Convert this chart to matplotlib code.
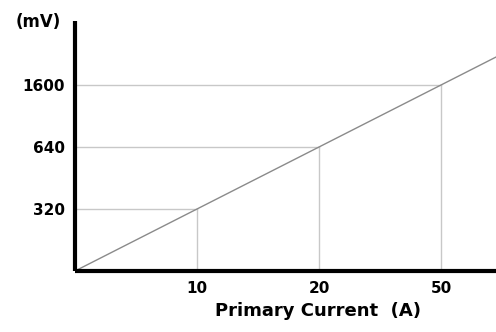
import numpy as np
import matplotlib.pyplot as plt

# category ticks (not linear in value, evenly spaced on the chart)
current_labels = ["10", "20", "50"]
voltage_labels = ["320", "640", "1600"]

x_pos = np.arange(1, len(current_labels) + 1)
y_pos = np.arange(1, len(voltage_labels) + 1)

fig = plt.figure(figsize=(4.96, 3.32), dpi=100)
W, H = 496, 332
x0, x1 = 75, 496
y0, y1 = 271, 21
ax = fig.add_axes([x0 / W, (H - y0) / H, (x1 - x0) / W, (y0 - y1) / H])

xmax = (x1 - x0) / 122
ymax = (y0 - y1) / 62
ax.set_xlim(0, xmax)
ax.set_ylim(0, ymax)

# drop lines from each point to the axes
for xp, yp in zip(x_pos, y_pos):
    ax.plot([0, xp], [yp, yp], color="#c8c8c8", lw=1, zorder=1)
    ax.plot([xp, xp], [0, yp], color="#c8c8c8", lw=1, zorder=1)

# response line through the points, extended to the right edge
xs = np.concatenate([[0], x_pos, [xmax]])
ax.plot(xs, xs, color="#8a8a8a", lw=1, zorder=2)

for s in ["top", "right"]:
    ax.spines[s].set_visible(False)
for s in ["left", "bottom"]:
    ax.spines[s].set_linewidth(3)
    ax.spines[s].set_capstyle("butt")

ax.set_xticks(x_pos)
ax.set_xticklabels(current_labels, fontweight="bold", fontsize=11)
ax.set_yticks(y_pos)
ax.set_yticklabels(voltage_labels, fontweight="bold", fontsize=11)
ax.tick_params(length=0, pad=7)

ax.set_xlabel("Primary Current  (A)", fontsize=13, fontweight="bold", va="center")
ax.xaxis.set_label_coords((318 - x0) / (x1 - x0), -(311 - y0) / (y0 - y1))

fig.text(38 / W, 1 - 22 / H, "(mV)", fontsize=12, fontweight="bold",
         ha="center", va="center")

fig.savefig("out.png", dpi=100)
